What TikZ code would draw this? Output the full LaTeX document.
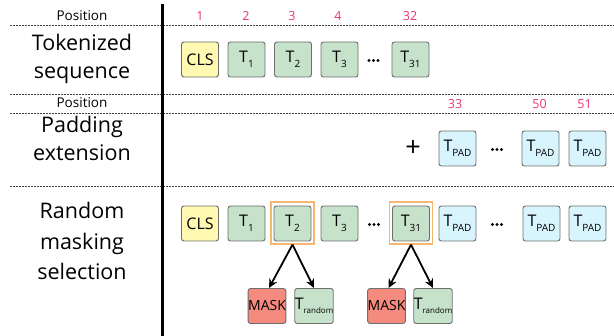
\documentclass[tikz,border=0pt]{standalone}
\usepackage{fontspec}
\setmainfont{Open Sans}
\usetikzlibrary{arrows.meta}
\definecolor{posnum}{RGB}{232,52,112}
\definecolor{boxline}{RGB}{110,110,110}
\definecolor{tgreen}{RGB}{198,226,202}
\definecolor{tyellow}{RGB}{255,249,178}
\definecolor{tcyan}{RGB}{216,245,253}
\definecolor{tred}{RGB}{245,138,126}
\definecolor{tframe}{RGB}{247,182,112}
\newcommand{\tsub}[1]{T\raisebox{-5pt}{\fontsize{10}{10}\selectfont #1}}
\begin{document}
\begin{tikzpicture}[x=1pt,y=-1pt,
  tok/.style={draw=boxline, rounded corners=2.5pt, minimum width=37pt, minimum height=35pt, inner sep=0pt, line width=0.9pt, font=\fontsize{16}{18}\selectfont},
  gtok/.style={tok, fill=tgreen},
  ytok/.style={tok, fill=tyellow},
  ctok/.style={tok, fill=tcyan},
  rtok/.style={tok, fill=tred, font=\fontsize{14}{15}\selectfont},
  hilite/.style={draw=tframe, line width=1.3pt, minimum width=43pt, minimum height=42pt, inner sep=0pt},
  dashsep/.style={draw=black!75, line width=0.8pt, dash pattern=on 2pt off 1pt},
  poslabel/.style={font=\fontsize{13.5}{15}\selectfont, inner sep=0pt},
  posnumber/.style={font=\fontsize{12.5}{14}\selectfont, text=posnum, inner sep=0pt},
  rowtitle/.style={font=\fontsize{21.5}{28}\selectfont, align=center, inner sep=0pt},
  smalldot/.style={circle, fill=black, inner sep=0pt, minimum size=3.4pt},
  branch/.style={-{Stealth[length=9pt,width=8.5pt]}, line width=1.8pt}
]
\useasboundingbox (0,0) rectangle (614,336);
% separators
\coordinate (s1l) at (10,25); \coordinate (s1r) at (614,25);
\coordinate (s2l) at (10,94); \coordinate (s2r) at (614,94);
\coordinate (s3l) at (10,113); \coordinate (s3r) at (614,113);
\coordinate (s4l) at (10,186); \coordinate (s4r) at (614,186);
\draw[dashsep] (s1l) -- (s1r);
\draw[dashsep] (s2l) -- (s2r);
\draw[dashsep] (s3l) -- (s3r);
\draw[dashsep] (s4l) -- (s4r);
\coordinate (vt) at (162,4); \coordinate (vb) at (162,336);
\draw[line width=3pt] (vt) -- (vb);
% left labels
\node[poslabel] (p1) at (82,16) {Position};
\node[poslabel] (p2) at (82,103) {Position};
\node[rowtitle] (l1) at (82,58.5) {Tokenized\\sequence};
\node[rowtitle] (l2) at (82,138.5) {Padding\\extension};
\node[rowtitle, font=\fontsize{21.5}{30.5}\selectfont] (l3) at (82,241) {Random\\masking\\selection};
% row 1 numbers
\node[posnumber] (n1) at (200,16) {1};
\node[posnumber] (n2) at (246,16) {2};
\node[posnumber] (n3) at (292,16) {3};
\node[posnumber] (n4) at (338,16) {4};
\node[posnumber] (n32) at (410,16) {32};
% row 1 tokens
\node[ytok] (a0) at (200,59.5) {CLS};
\node[gtok] (a1) at (246.5,59.5) {\tsub{1}};
\node[gtok] (a2) at (293,59.5) {\tsub{2}};
\node[gtok] (a3) at (339.5,59.5) {\tsub{3}};
\node[smalldot] (ad1) at (369,60.5) {}; \node[smalldot] (ad2) at (373.5,60.5) {}; \node[smalldot] (ad3) at (378,60.5) {};
\node[gtok] (a31) at (410.5,59.5) {\tsub{31}};
% row 2
\node[posnumber] (n33) at (455,104) {33};
\node[posnumber] (n50) at (539.5,104) {50};
\node[posnumber] (n51) at (584.5,104) {51};
\node[font=\fontsize{27}{27}\selectfont, inner sep=0pt] (plus) at (413,148) {+};
\node[ctok] (b1) at (457.5,148.5) {\tsub{PAD}};
\node[smalldot] (bd1) at (492.5,149.5) {}; \node[smalldot] (bd2) at (497,149.5) {}; \node[smalldot] (bd3) at (501.5,149.5) {};
\node[ctok] (b2) at (540.5,148.5) {\tsub{PAD}};
\node[ctok] (b3) at (587.5,148.5) {\tsub{PAD}};
% row 3
\node[ytok] (c0) at (200,223.5) {CLS};
\node[gtok] (c1) at (246.5,223.5) {\tsub{1}};
\node[gtok] (c2) at (292.5,223.5) {\tsub{2}};
\node[hilite] (f2) at (292.5,223) {};
\node[gtok] (c3) at (339.5,223.5) {\tsub{3}};
\node[smalldot] (cd1) at (369.5,224.5) {}; \node[smalldot] (cd2) at (374,224.5) {}; \node[smalldot] (cd3) at (378.5,224.5) {};
\node[gtok] (c31) at (411,223.5) {\tsub{31}};
\node[hilite] (f31) at (411,223) {};
\node[ctok] (c32) at (457.5,223.5) {\tsub{PAD}};
\node[smalldot] (cdd1) at (492.5,224.5) {}; \node[smalldot] (cdd2) at (497,224.5) {}; \node[smalldot] (cdd3) at (501.5,224.5) {};
\node[ctok] (c50) at (541.5,223.5) {\tsub{PAD}};
\node[ctok] (c51) at (587.5,223.5) {\tsub{PAD}};
% masking choices
\node[rtok] (m1) at (267,306) {MASK};
\node[gtok] (r1) at (314,306) {T\raisebox{-4.5pt}{\fontsize{8}{8}\selectfont random}};
\node[rtok] (m2) at (386.5,306) {MASK};
\node[gtok] (r2) at (433,306) {T\raisebox{-4.5pt}{\fontsize{8}{8}\selectfont random}};
\draw[branch] (f2.south) -- ([xshift=2pt]m1.north);
\draw[branch] (f2.south) -- (r1.north);
\draw[branch] (f31.south) -- ([xshift=2pt]m2.north);
\draw[branch] (f31.south) -- (r2.north);
\end{tikzpicture}
\end{document}
